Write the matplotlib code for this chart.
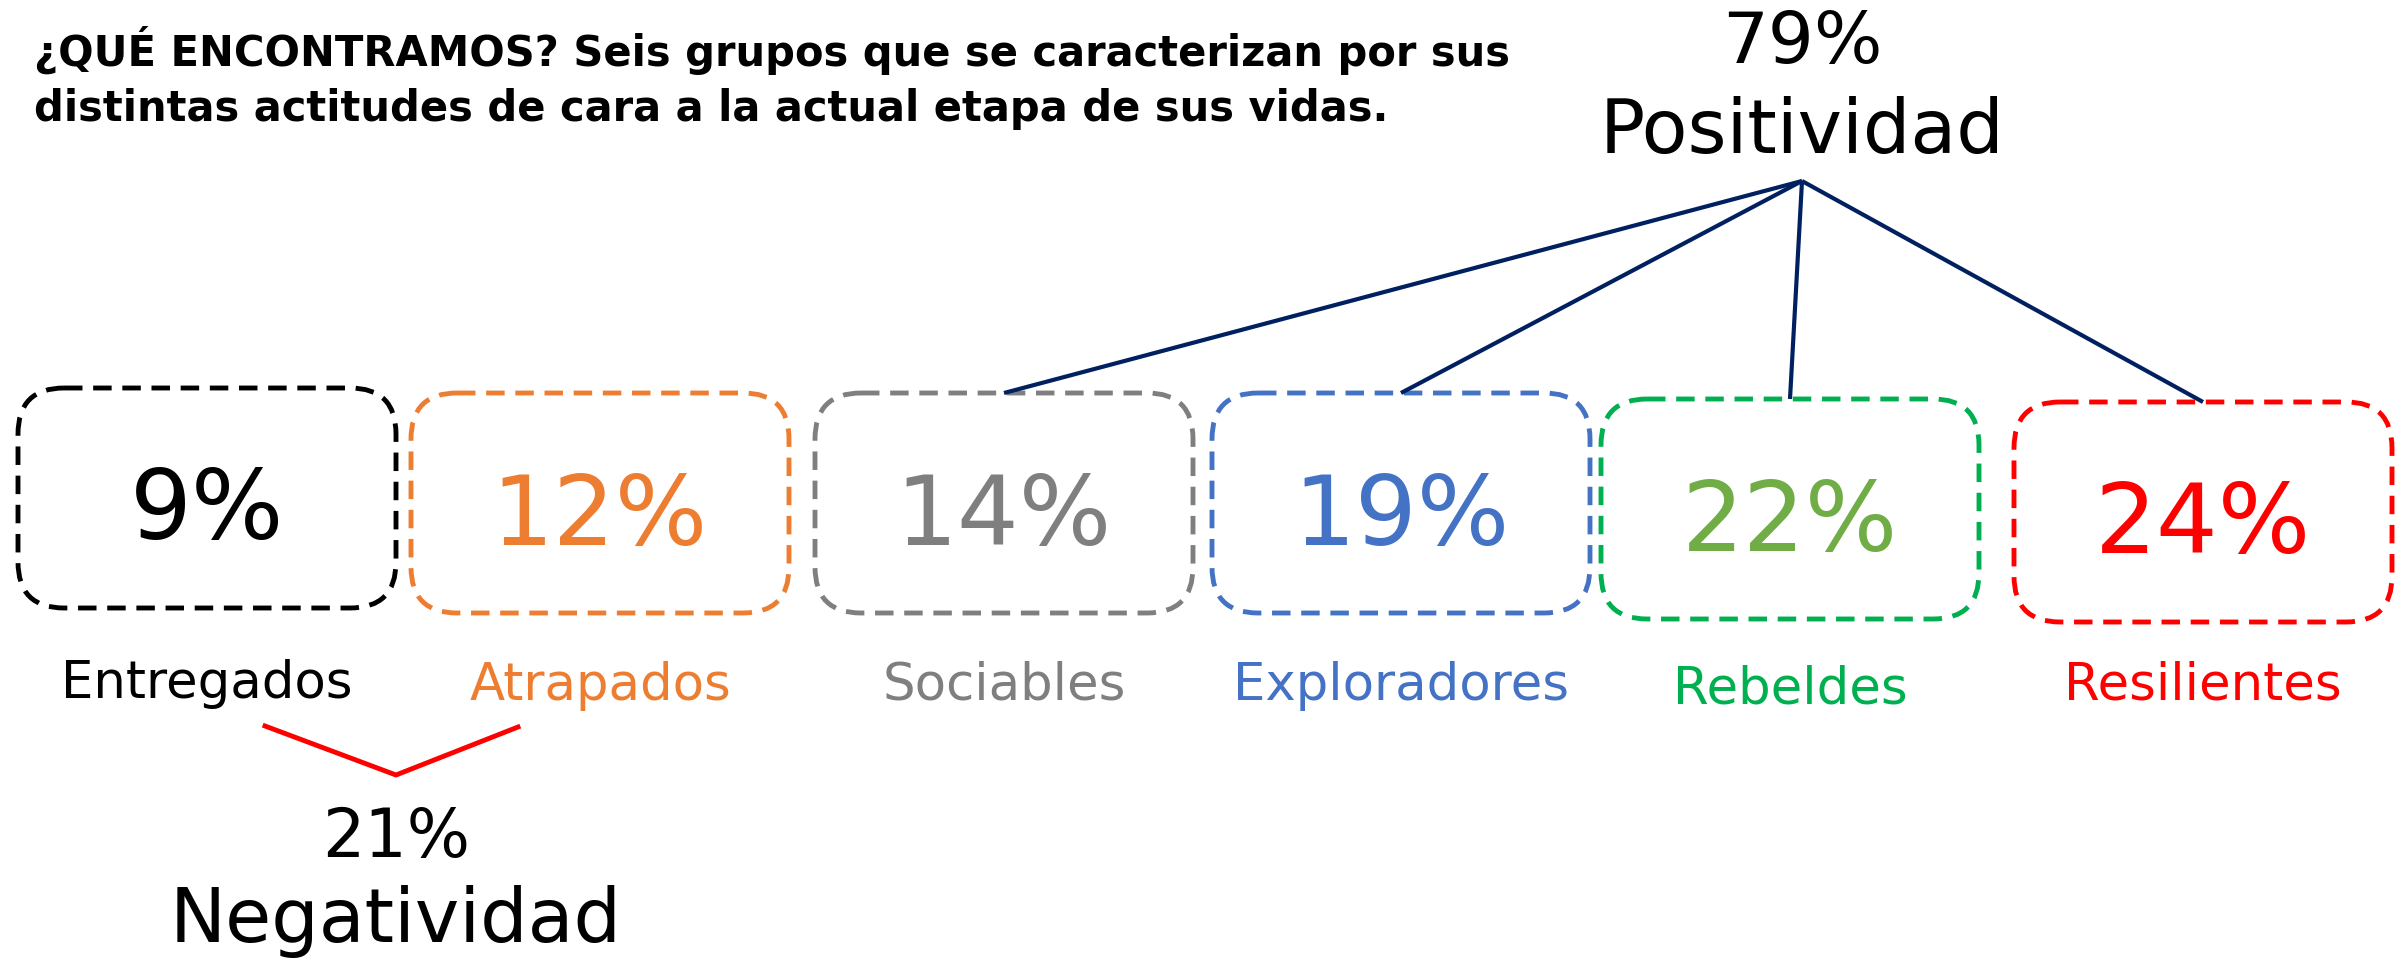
import matplotlib
matplotlib.use("Agg")
import matplotlib.pyplot as plt
from matplotlib.patches import FancyBboxPatch

plt.rcParams['font.family'] = ['DejaVu Sans']

# data
groups = ['Entregados', 'Atrapados', 'Sociables', 'Exploradores', 'Rebeldes', 'Resilientes']
pcts = [9, 12, 14, 19, 22, 24]
box_colors = ['#000000', '#ED7D31', '#7F7F7F', '#4472C4', '#00B050', '#FF0000']
num_colors = ['#000000', '#ED7D31', '#7F7F7F', '#4472C4', '#70AD47', '#FF0000']
label_colors = ['#000000', '#ED7D31', '#7F7F7F', '#4472C4', '#00B050', '#FF0000']
neg_groups = [0, 1]
pos_groups = [2, 3, 4, 5]
neg_total = 21
pos_total = 79
title = ('¿QUÉ ENCONTRAMOS? Seis grupos que se caracterizan por sus\n'
         'distintas actitudes de cara a la actual etapa de sus vidas.')

# layout (pixel coords, y down)
box_left = [18, 411, 815, 1212, 1601, 2014]
box_top = [388, 393, 393, 393, 399, 402]
box_w = 378
box_h = 220
label_y = [684, 686, 686, 686, 690, 686]

fig = plt.figure(figsize=(24.05, 9.6), dpi=100)
ax = fig.add_axes([0, 0, 1, 1])
ax.set_xlim(0, 2405)
ax.set_ylim(960, 0)
ax.axis('off')

ax.text(34, 78, title, fontsize=30, fontweight='bold', ha='left', va='center',
        linespacing=1.4, color='black')

for i, g in enumerate(groups):
    x0, y0 = box_left[i], box_top[i]
    box = FancyBboxPatch((x0 + 24, y0 + 24), box_w - 48, box_h - 48,
                         boxstyle='round,pad=24,rounding_size=46',
                         fill=False, edgecolor=box_colors[i], lw=3.5,
                         linestyle=(0, (3.8, 2.2)))
    ax.add_patch(box)
    cx = x0 + box_w / 2
    ax.text(cx, y0 + box_h / 2 + 15, f'{pcts[i]}%', fontsize=70,
            color=num_colors[i], ha='center', va='center')
    ax.text(cx, label_y[i], g, fontsize=37, color=label_colors[i],
            ha='center', va='center')

# positive connectors
apex = (1802, 181)
for i in pos_groups:
    cx = box_left[i] + box_w / 2
    ax.plot([apex[0], cx], [apex[1], box_top[i]], color='#002060', lw=3,
            solid_capstyle='butt')
ax.text(1802, 44, f'{pos_total}%', fontsize=52, ha='center', va='center')
ax.text(1802, 132, 'Positividad', fontsize=54, ha='center', va='center')

# negative connector
vx, vy = 396, 775
ax.plot([265, vx, 518], [726, vy, 727], color='#FF0000', lw=3.5)
ax.text(396, 838, f'{neg_total}%', fontsize=48, ha='center', va='center')
ax.text(396, 922, 'Negatividad', fontsize=54, ha='center', va='center')

fig.savefig('out.png', dpi=100)
